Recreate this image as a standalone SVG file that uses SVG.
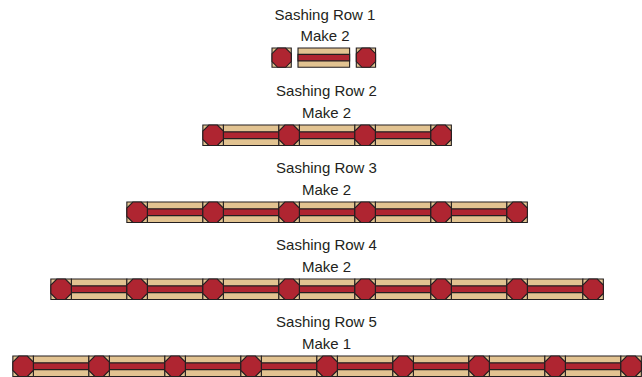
<svg xmlns="http://www.w3.org/2000/svg" xmlns:xlink="http://www.w3.org/1999/xlink" width="642" height="377" viewBox="0 0 642 377">
<style>
.tan{fill:#E2C391;stroke:#231F20;stroke-width:1.1;vector-effect:non-scaling-stroke}
.red{fill:#AF2531;stroke:#231F20;stroke-width:1.1;vector-effect:non-scaling-stroke}
.lbl{font-family:"Liberation Sans",Arial,sans-serif;font-size:15px;fill:#231F20;text-anchor:middle}
</style>
<defs>
<g id="sq">
<rect class="tan" x="0" y="0" width="20.5" height="20.5"/>
<polygon class="red" points="6,0 14.5,0 20.5,6 20.5,14.5 14.5,20.5 6,20.5 0,14.5 0,6"/>
</g>
<g id="st">
<rect class="tan" x="0" y="0" width="55.5" height="20.5"/>
<rect class="red" x="0" y="6.83" width="55.5" height="6.84"/>
</g>
</defs>
<g id="connectors"/>
<g id="row1">
<text class="lbl" x="325" y="20">Sashing Row 1</text>
<text class="lbl" x="325" y="41">Make 2</text>
<use xlink:href="#sq" transform="translate(272,48) scale(0.94)"/>
<use xlink:href="#st" transform="translate(298,48) scale(0.93,0.94)"/>
<use xlink:href="#sq" transform="translate(356.3,48) scale(0.94)"/>
</g>
<g id="row2">
<text class="lbl" x="326.5" y="96">Sashing Row 2</text>
<text class="lbl" x="326.5" y="118">Make 2</text>
<g transform="translate(202.85,125)">
<use xlink:href="#st" x="20.5"/><use xlink:href="#st" x="96.5"/><use xlink:href="#st" x="172.5"/>
<use xlink:href="#sq" x="0"/><use xlink:href="#sq" x="76"/><use xlink:href="#sq" x="152"/><use xlink:href="#sq" x="228"/>
</g>
</g>
<g id="row3">
<text class="lbl" x="326.5" y="173">Sashing Row 3</text>
<text class="lbl" x="326.5" y="195">Make 2</text>
<g transform="translate(126.85,202)">
<use xlink:href="#st" x="20.5"/><use xlink:href="#st" x="96.5"/><use xlink:href="#st" x="172.5"/><use xlink:href="#st" x="248.5"/><use xlink:href="#st" x="324.5"/>
<use xlink:href="#sq" x="0"/><use xlink:href="#sq" x="76"/><use xlink:href="#sq" x="152"/><use xlink:href="#sq" x="228"/><use xlink:href="#sq" x="304"/><use xlink:href="#sq" x="380"/>
</g>
</g>
<g id="row4">
<text class="lbl" x="326.5" y="250">Sashing Row 4</text>
<text class="lbl" x="326.5" y="272">Make 2</text>
<g transform="translate(50.85,279)">
<use xlink:href="#st" x="20.5"/><use xlink:href="#st" x="96.5"/><use xlink:href="#st" x="172.5"/><use xlink:href="#st" x="248.5"/><use xlink:href="#st" x="324.5"/><use xlink:href="#st" x="400.5"/><use xlink:href="#st" x="476.5"/>
<use xlink:href="#sq" x="0"/><use xlink:href="#sq" x="76"/><use xlink:href="#sq" x="152"/><use xlink:href="#sq" x="228"/><use xlink:href="#sq" x="304"/><use xlink:href="#sq" x="380"/><use xlink:href="#sq" x="456"/><use xlink:href="#sq" x="532"/>
</g>
</g>
<g id="row5">
<text class="lbl" x="326.5" y="327">Sashing Row 5</text>
<text class="lbl" x="326.5" y="349">Make 1</text>
<g transform="translate(12.85,356)">
<use xlink:href="#st" x="20.5"/><use xlink:href="#st" x="96.5"/><use xlink:href="#st" x="172.5"/><use xlink:href="#st" x="248.5"/><use xlink:href="#st" x="324.5"/><use xlink:href="#st" x="400.5"/><use xlink:href="#st" x="476.5"/><use xlink:href="#st" x="552.5"/>
<use xlink:href="#sq" x="0"/><use xlink:href="#sq" x="76"/><use xlink:href="#sq" x="152"/><use xlink:href="#sq" x="228"/><use xlink:href="#sq" x="304"/><use xlink:href="#sq" x="380"/><use xlink:href="#sq" x="456"/><use xlink:href="#sq" x="532"/><use xlink:href="#sq" x="608"/>
</g>
</g>
</svg>
